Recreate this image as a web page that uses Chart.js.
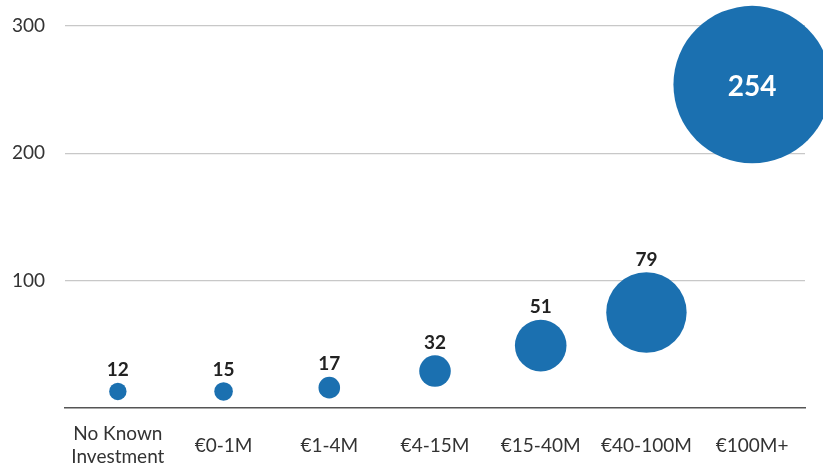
<!DOCTYPE html>
<html>
<head>
<meta charset="utf-8">
<script src="https://cdn.jsdelivr.net/npm/chart.js@4.4.0/dist/chart.umd.min.js"></script>
<style>
  html, body { margin: 0; padding: 0; background: #fff; }
  #wrap { width: 823px; height: 467px; position: relative; }
</style>
</head>
<body>
<div id="wrap"><canvas id="bubbleChart"></canvas></div>
<script>
// categories along the x axis
const categories = [
    ['No Known', 'Investment'],
    '€0-1M',
    '€1-4M',
    '€4-15M',
    '€15-40M',
    '€40-100M',
    '€100M+'
];

// counts shown as labels on each bubble
const counts = [12, 15, 17, 32, 51, 79, 254];

// y position of each bubble
const yValues = [13, 13, 16, 29, 49, 75, 254];

// bubble radius (third dimension of the bubble chart)
const bubbleR = [8.7, 9.3, 10.8, 15.8, 25.8, 40.2, 78.7];

const yTicks = [100, 200, 300];

const FONT = 'Lato, "Open Sans", sans-serif';
const BLUE = '#1b70b0';

const points = counts.map((c, i) => ({ x: i, y: yValues[i], r: bubbleR[i] }));

// draws the count above each bubble, or inside it when the bubble is big
const countLabels = {
    id: 'countLabels',
    afterDatasetsDraw(chart) {
        const ctx = chart.ctx;
        const meta = chart.getDatasetMeta(0);
        ctx.save();
        ctx.textAlign = 'center';
        meta.data.forEach((pt, i) => {
            const r = pt.options.radius;
            if (r > 50) {
                ctx.font = 'bold 28px ' + FONT;
                ctx.fillStyle = '#ffffff';
                ctx.textBaseline = 'middle';
                ctx.fillText(String(counts[i]), pt.x, pt.y + 2);
            } else {
                ctx.font = 'bold 19px ' + FONT;
                ctx.fillStyle = '#222222';
                ctx.textBaseline = 'bottom';
                ctx.fillText(String(counts[i]), pt.x, pt.y - r - 3);
            }
        });
        ctx.restore();
    }
};

new Chart(document.getElementById('bubbleChart'), {
    type: 'bubble',
    data: {
        datasets: [{
            data: points,
            backgroundColor: BLUE,
            borderWidth: 0,
            hoverBorderWidth: 0,
            clip: false
        }]
    },
    options: {
        responsive: true,
        maintainAspectRatio: false,
        animation: false,
        events: [],
        layout: { autoPadding: false, padding: { top: 26, right: 18, left: 0, bottom: 0 } },
        plugins: {
            legend: { display: false },
            tooltip: { enabled: false }
        },
        scales: {
            x: {
                type: 'category',
                labels: categories,
                offset: true,
                grid: { color: 'rgba(0,0,0,0)', drawTicks: false },
                border: { display: true, color: '#555555', width: 1.5 },
                ticks: {
                    color: '#333333',
                    font: { family: FONT, size: 19, lineHeight: 1.2 },
                    padding: 26,
                    crossAlign: 'center',
                    maxRotation: 0,
                    autoSkip: false
                },
                afterFit(scale) { scale.height = 59; }
            },
            y: {
                min: 0,
                max: 300,
                afterBuildTicks(scale) {
                    scale.ticks = [0].concat(yTicks).map(v => ({ value: v }));
                },
                grid: {
                    color: ctx => ctx.tick && ctx.tick.value === 0 ? 'rgba(0,0,0,0)' : '#c8c8c8',
                    lineWidth: 1.2,
                    drawTicks: false
                },
                border: { display: false },
                ticks: {
                    color: '#333333',
                    font: { family: FONT, size: 19 },
                    padding: 20,
                    callback: v => (v === 0 ? '' : v)
                },
                afterFit(scale) {
                    scale.width = 65;
                    // tick padding should only push labels sideways
                    scale.paddingTop = 0;
                    scale.paddingBottom = 0;
                }
            }
        }
    },
    plugins: [countLabels]
});
</script>
</body>
</html>
